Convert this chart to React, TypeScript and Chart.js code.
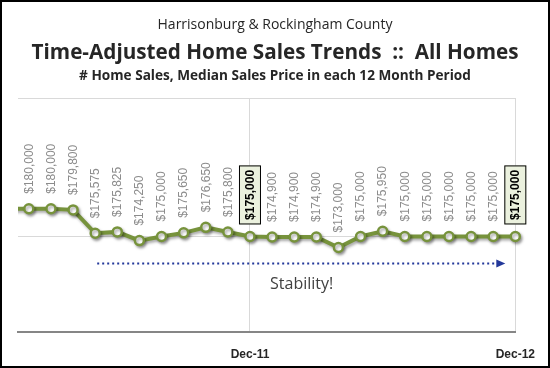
import React, { useEffect, useRef } from "react";
import { Chart, registerables } from "chart.js";

Chart.register(...registerables);

// ---- data ----
const months = [
  "Jan-11", "Feb-11", "Mar-11", "Apr-11", "May-11", "Jun-11", "Jul-11", "Aug-11",
  "Sep-11", "Oct-11", "Nov-11", "Dec-11", "Jan-12", "Feb-12", "Mar-12", "Apr-12",
  "May-12", "Jun-12", "Jul-12", "Aug-12", "Sep-12", "Oct-12", "Nov-12", "Dec-12",
];
const medianPrice = [
  180000, 180000, 180000, 179800, 175575, 175825, 174250, 175000,
  175650, 176650, 175800, 175000, 174900, 174900, 174900, 173000,
  175000, 175950, 175000, 175000, 175000, 175000, 175000, 175000,
];
const axisTickLabels = ["Dec-11", "Dec-12"];
const highlightedMonths = ["Dec-11", "Dec-12"];
const unlabeledMonths = ["Jan-11"];
const yGridValues = [175000, 200000];

const titleLine1 = "Harrisonburg & Rockingham County";
const titleLine2 = "Time-Adjusted Home Sales Trends\u00a0\u00a0::\u00a0\u00a0All Homes";
const titleLine3 = "# Home Sales, Median Sales Price in each 12 Month Period";
const annotationText = "Stability!";

const LINE_GREEN = "#77933C";

const fmt = (v: number) => "$" + v.toLocaleString("en-US");

const shadowPlugin = {
  id: "lineShadow",
  beforeDatasetDraw(chart: any) {
    const ctx = chart.ctx;
    ctx.save();
    ctx.shadowColor = "rgba(0,0,0,0.35)";
    ctx.shadowBlur = 3;
    ctx.shadowOffsetX = 1.5;
    ctx.shadowOffsetY = 2;
  },
  afterDatasetDraw(chart: any) {
    chart.ctx.restore();
  },
};

const labelsPlugin = {
  id: "valueLabels",
  afterDatasetsDraw(chart: any) {
    const ctx = chart.ctx;
    const meta = chart.getDatasetMeta(0);
    meta.data.forEach((pt: any, i: number) => {
      if (unlabeledMonths.includes(months[i])) return;
      const text = fmt(medianPrice[i]);
      const hl = highlightedMonths.includes(months[i]);
      ctx.save();
      ctx.translate(pt.x, pt.y);
      ctx.rotate(-Math.PI / 2);
      if (hl) {
        ctx.font = "bold 12px 'Liberation Sans', Arial, sans-serif";
        const w = ctx.measureText(text).width;
        const x0 = 12;
        const bw = w + 9;
        ctx.fillStyle = "#EBF1DE";
        ctx.fillRect(x0, -11, bw, 22);
        ctx.strokeStyle = "#000";
        ctx.lineWidth = 1;
        ctx.strokeRect(x0 + 0.5, -10.5, bw - 1, 21);
        ctx.fillStyle = "#000";
        ctx.textAlign = "left";
        ctx.textBaseline = "middle";
        ctx.fillText(text, x0 + 4.5, 0.5);
      } else {
        ctx.font = "12px 'Liberation Sans', Arial, sans-serif";
        ctx.fillStyle = "#8C8C8C";
        ctx.textAlign = "left";
        ctx.textBaseline = "middle";
        ctx.fillText(text, 15, 0.5);
      }
      ctx.restore();
    });
  },
};

const annotationPlugin = {
  id: "stabilityArrow",
  afterDatasetsDraw(chart: any) {
    const ctx = chart.ctx;
    const xs = chart.scales.x;
    const ys = chart.scales.y;
    const startX = xs.getPixelForValue(months.indexOf("May-11")) + 2;
    const endX = xs.getPixelForValue(months.indexOf("Dec-12")) - 10;
    const y = Math.round(ys.getPixelForValue(170250)) + 0.5;
    ctx.save();
    ctx.strokeStyle = "#23389A";
    ctx.fillStyle = "#23389A";
    ctx.lineWidth = 2;
    ctx.setLineDash([2, 3]);
    ctx.beginPath();
    ctx.moveTo(startX, y);
    ctx.lineTo(endX - 7, y);
    ctx.stroke();
    ctx.setLineDash([]);
    ctx.beginPath();
    ctx.moveTo(endX, y);
    ctx.lineTo(endX - 9, y - 4);
    ctx.lineTo(endX - 9, y + 4);
    ctx.closePath();
    ctx.fill();
    ctx.font = "16px 'Open Sans', sans-serif";
    ctx.fillStyle = "#404040";
    ctx.textAlign = "left";
    ctx.textBaseline = "middle";
    ctx.fillText(annotationText, xs.getPixelForValue(months.indexOf("Jan-12")) - 2, ys.getPixelForValue(166260));
    ctx.restore();
  },
};

export default function App() {
  const canvasRef = useRef<HTMLCanvasElement | null>(null);

  useEffect(() => {
    const canvas = canvasRef.current;
    if (!canvas) return;
    const chart = new Chart(canvas, {
      type: "line",
      data: {
        datasets: [
          {
            label: "Median Sales Price",
            data: medianPrice.map((v, i) => ({ x: i, y: v })),
            borderColor: LINE_GREEN,
            borderWidth: 4,
            pointRadius: 4.5,
            pointBorderWidth: 2.5,
            pointBackgroundColor: "#FFFFFF",
            pointBorderColor: LINE_GREEN,
            tension: 0,
            clip: { left: 0, top: false, right: false, bottom: false } as any,
          },
        ],
      },
      options: {
        animation: false,
        responsive: false,
        devicePixelRatio: 1,
        layout: { padding: { left: 18, right: 28, top: 98, bottom: 0 } },
        plugins: {
          legend: { display: false },
          tooltip: { enabled: false },
          title: { display: false },
        },
        scales: {
          x: {
            type: "linear",
            min: 0.509,
            max: months.length - 1,
            afterBuildTicks(scale: any) {
              scale.ticks = axisTickLabels.map((l) => ({ value: months.indexOf(l) }));
            },
            afterFit(scale: any) {
              scale.height = 36;
            },
            ticks: {
              autoSkip: false,
              maxRotation: 0,
              padding: 15,
              color: "#262626",
              font: { family: "'Liberation Sans', Arial, sans-serif", size: 12, weight: "bold" },
              callback: (v: any) => months[Number(v)],
            },
            grid: { color: "#D9D9D9", lineWidth: 1, drawTicks: false },
            border: { display: true, color: "#868686", width: 2 },
          },
          y: {
            type: "linear",
            min: 157750,
            max: 200000,
            afterBuildTicks(scale: any) {
              scale.ticks = yGridValues.map((v) => ({ value: v }));
            },
            afterFit(scale: any) {
              scale.width = 0;
            },
            ticks: { display: false },
            grid: { color: "#D9D9D9", lineWidth: 1, drawTicks: false },
            border: { display: false },
          },
        },
      },
      plugins: [shadowPlugin, labelsPlugin, annotationPlugin],
    });
    return () => chart.destroy();
  }, []);

  const line = (top: number, size: number, bold: boolean, text: string) => (
    <div
      style={{
        position: "absolute",
        left: 0,
        width: 550,
        top: top - 12,
        height: 24,
        lineHeight: "24px",
        textAlign: "center",
        fontFamily: "'Open Sans', sans-serif",
        fontSize: size,
        fontWeight: bold ? 700 : 400,
        color: "#262626",
        whiteSpace: "nowrap",
      }}
    >
      {text}
    </div>
  );

  return (
    <div
      style={{
        position: "fixed",
        left: 0,
        top: 0,
        width: 550,
        height: 368,
        background: "#FFFFFF",
        overflow: "hidden",
      }}
    >
      <canvas
        ref={canvasRef}
        width={550}
        height={368}
        style={{ position: "absolute", left: 0, top: 0, width: 550, height: 368 }}
      />
      {line(24, 14, false, titleLine1)}
      {line(51, 20.7, true, titleLine2)}
      {line(75, 13.6, true, titleLine3)}
      <div
        style={{
          position: "absolute",
          left: 0,
          top: 0,
          width: 550,
          height: 368,
          boxSizing: "border-box",
          border: "2px solid #000",
          pointerEvents: "none",
        }}
      />
    </div>
  );
}
